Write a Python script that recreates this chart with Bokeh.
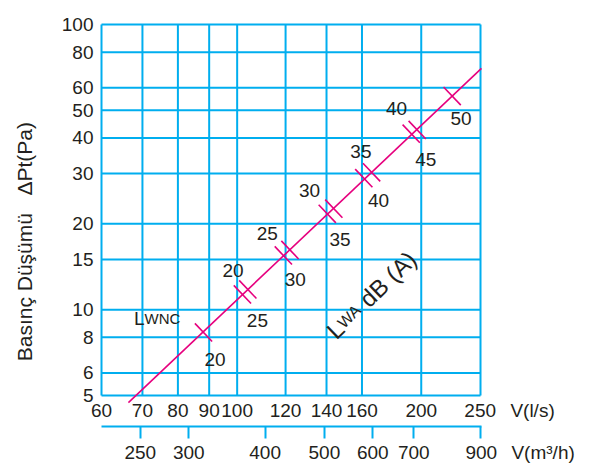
import math
from bokeh.plotting import figure
from bokeh.models import LogAxis, LogScale, FixedTicker, Range1d, PrintfTickFormatter, Label
from bokeh.core.properties import value
from bokeh.embed import file_html
from bokeh.resources import INLINE

# ---------------- data ----------------
x_ticks_ls = [60, 70, 80, 90, 100, 120, 140, 160, 200, 250]          # V (l/s)
y_ticks_pa = [5, 6, 8, 10, 15, 20, 30, 40, 50, 60, 80, 100]           # dPt (Pa)
x_ticks_m3h = [250, 300, 400, 500, 600, 700, 900]                     # V (m3/h)

line_v = [66.4, 250.9]      # pressure-drop line end points (l/s)
line_p = [4.72, 70.2]       # (Pa)

lwa_levels = [20, 25, 30, 35, 40, 45, 50]
lwa_v = [88.1, 102.0, 119.0, 140.4, 161.1, 192.6, 224.7]
lwa_p = [8.32, 11.31, 15.49, 21.69, 28.9, 41.4, 56.1]

lwnc_levels = [20, 25, 30, 35, 40]
lwnc_v = [104.1, 122.0, 143.9, 165.9, 197.0]
lwnc_p = [11.77, 16.2, 22.6, 30.3, 42.7]

# ---------------- layout / style ----------------
CYAN = "#00AEEF"
PINK = "#E6007E"
TXT = "#231F20"
FONT = "Liberation Sans"
NB = "\u00a0"

W, H = 595, 465
X0, X1 = min(x_ticks_ls), max(x_ticks_ls)
Y0, Y1 = min(y_ticks_pa), max(y_ticks_pa)
PX_X0, PX_X1 = 101.0, 480.0      # pixel of X0, X1
PX_Y1, PX_Y0 = 24.0, 395.0       # pixel of Y1, Y0
DEC_X = (PX_X1 - PX_X0) / math.log10(X1 / X0)
DEC_Y = (PX_Y0 - PX_Y1) / math.log10(Y1 / Y0)


def vx(px):
    return X0 * 10 ** ((px - PX_X0) / DEC_X)


def vy(py):
    return Y0 * 10 ** ((PX_Y0 - py) / DEC_Y)


# label offsets (screen px) from each tick to its number
lwa_dx = [11.5, 15, 12, 12.8, 14.7, 14.6, 8.8]
lwa_dy = [27, 26, 24.5, 25.7, 22.3, 25.7, 22.3]
lwnc_dx = [-14.8, -22.6, -24.3, -10.7, -20.7]
lwnc_dy = [-19, -16.8, -17.8, -21.2, -21.8]

FR_L, FR_R, FR_T, FR_B = 95, 486, 20, 404   # frame in pixels

p = figure(
    x_axis_type="log", y_axis_type="log",
    x_range=Range1d(vx(FR_L), vx(FR_R)), y_range=Range1d(vy(FR_B), vy(FR_T)),
    frame_width=FR_R - FR_L, frame_height=FR_B - FR_T,
    min_border_left=FR_L, min_border_right=W - FR_R,
    min_border_top=FR_T, min_border_bottom=H - FR_B,
    output_backend="svg", toolbar_location=None,
    outline_line_color=None, background_fill_color="white", border_fill_color="white",
)
p.grid.visible = False

# grid drawn as segments over the tick values
p.segment(x0=x_ticks_ls, y0=[Y0] * len(x_ticks_ls), x1=x_ticks_ls, y1=[Y1] * len(x_ticks_ls),
          line_color=CYAN, line_width=2)
p.segment(x0=[X0] * len(y_ticks_pa), y0=y_ticks_pa, x1=[X1] * len(y_ticks_pa), y1=y_ticks_pa,
          line_color=CYAN, line_width=2)

# pressure line and sound level ticks
p.line(line_v, line_p, line_color=PINK, line_width=1.6)
p.scatter(lwa_v, lwa_p, marker="dash", size=25, angle=-0.81, line_color=PINK, line_width=1.6)
p.scatter(lwnc_v, lwnc_p, marker="dash", size=25, angle=-0.81, line_color=PINK, line_width=1.6)

p.text(x=lwa_v, y=lwa_p, text=[str(v) for v in lwa_levels], x_offset=lwa_dx, y_offset=lwa_dy,
       text_align="center", text_baseline="middle", text_font=value(FONT),
       text_font_size="19px", text_color=TXT)
p.text(x=lwnc_v, y=lwnc_p, text=[str(v) for v in lwnc_levels], x_offset=lwnc_dx, y_offset=lwnc_dy,
       text_align="center", text_baseline="middle", text_font=value(FONT),
       text_font_size="19px", text_color=TXT)

# axes
xa, ya = p.xaxis[0], p.yaxis[0]
for ax in (xa, ya):
    ax.axis_line_color = None
    ax.major_tick_line_color = None
    ax.minor_tick_line_color = None
    ax.major_tick_in = 0
    ax.major_tick_out = 0
    ax.minor_tick_in = 0
    ax.minor_tick_out = 0
    ax.formatter = PrintfTickFormatter(format="%d")
    ax.major_label_text_font = FONT
    ax.major_label_text_font_size = "19px"
    ax.major_label_text_color = TXT
xa.ticker = FixedTicker(ticks=x_ticks_ls)
ya.ticker = FixedTicker(ticks=y_ticks_pa)
xa.major_label_standoff = -5
ya.major_label_standoff = 2
# unit name written after the last tick label
xa.major_label_overrides = {x_ticks_ls[-1]: NB * 11 + str(x_ticks_ls[-1]) + NB * 2 + "\u2009" + "V(l/s)"}
# small spacer so that the m3/h axis sits a little lower
xa.axis_label = " "
xa.axis_label_text_font_size = "1px"
xa.axis_label_standoff = -1

ya.axis_label = "Basınç Düşümü" + NB * 3 + "\u0394Pt(Pa)" + NB * 10
ya.axis_label_text_font = FONT
ya.axis_label_text_font_size = "21px"
ya.axis_label_text_font_style = "normal"
ya.axis_label_text_color = TXT
ya.axis_label_standoff = 23

p.extra_x_ranges = {"m3h": Range1d(vx(FR_L) * 3.6, vx(FR_R) * 3.6)}
p.extra_x_scales = {"m3h": LogScale()}
ax2 = LogAxis(
    x_range_name="m3h", ticker=FixedTicker(ticks=x_ticks_m3h),
    formatter=PrintfTickFormatter(format="%d"),
    axis_line_color=CYAN, axis_line_width=2,
    major_tick_line_color=CYAN, major_tick_line_width=2, major_tick_in=0, major_tick_out=12,
    minor_tick_line_color=None, minor_tick_in=0, minor_tick_out=0, major_label_standoff=3,
    major_label_text_font=FONT, major_label_text_font_size="19px", major_label_text_color=TXT,
    bounds=(X0 * 3.6, 905),
)
ax2.major_label_overrides = {x_ticks_m3h[-1]: NB * 15 + str(x_ticks_m3h[-1]) + NB * 2 + "\u2009" + "V(m\u00b3/h)"}
p.add_layout(ax2, "below")


def lab(px, py, text, size, angle=0.0, align="left", baseline="alphabetic"):
    p.add_layout(Label(x=vx(px), y=vy(py), text=text, angle=angle, text_align=align,
                       text_baseline=baseline, text_font=FONT, text_font_size=size,
                       text_color=TXT))


# L_WNC
lab(133.5, 318, "L", "19px")
lab(144, 318, "WNC", "15px")
# L_WA dB (A) rotated along the line
ang = math.radians(44)
c, s = math.cos(ang), -math.sin(ang)
sx, sy = 330.0, 334.0
F1, F2 = 24, 16
lab(sx, sy, "L", "%dpx" % F1, angle=ang)
d1 = 0.556 * F1
lab(sx + c * d1, sy + s * d1, "WA", "%dpx" % F2, angle=ang)
d2 = d1 + 1.611 * F2 + 0.278 * F1
lab(sx + c * d2, sy + s * d2, "dB (A)", "%dpx" % F1, angle=ang)

open("out.html", "w").write(file_html(p, INLINE))
